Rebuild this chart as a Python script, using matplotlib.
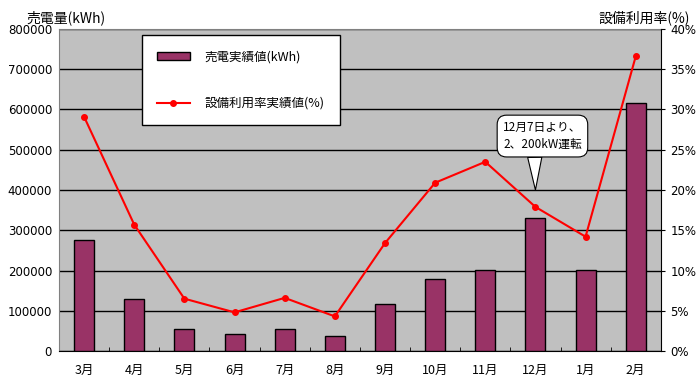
import matplotlib
matplotlib.use("Agg")
import matplotlib.pyplot as plt
import numpy as np

plt.rcParams['font.family'] = ['Noto Sans CJK JP', 'DejaVu Sans']

months = ['3月', '4月', '5月', '6月', '7月', '8月', '9月', '10月', '11月', '12月', '1月', '2月']
sales_kwh = [275000, 130000, 55000, 42000, 55000, 38000, 117000, 179000, 201000, 330000, 202000, 615000]
usage_rate = [29.1, 15.7, 6.5, 4.8, 6.6, 4.3, 13.4, 20.9, 23.5, 17.9, 14.2, 36.6]
left_ticks = [0, 100000, 200000, 300000, 400000, 500000, 600000, 700000, 800000]
right_ticks = [0, 5, 10, 15, 20, 25, 30, 35, 40]

BAR_COLOR = '#993366'
PLOT_BG = '#c0c0c0'

fig = plt.figure(figsize=(7, 3.85), dpi=100)
ax = fig.add_axes([0.0843, 0.0883, 0.8597, 0.8364])
ax.set_facecolor(PLOT_BG)
x = np.arange(len(months))

ax.bar(x, sales_kwh, width=0.4, color=BAR_COLOR, edgecolor='black', linewidth=1,
       zorder=3, label='売電実績値(kWh)')
ax.set_xlim(-0.5, len(months) - 0.5)
ax.set_ylim(0, 800000)
ax.set_yticks(left_ticks)
ax.set_yticklabels([str(v) for v in left_ticks], fontsize=8.5, family='DejaVu Sans')
ax.yaxis.grid(True, color='black', linewidth=1, zorder=1)
ax.set_axisbelow(True)
ax.set_xticks(x)
ax.set_xticklabels(months, fontsize=9)
ax.tick_params(axis='x', length=0, pad=9)
ax.set_xticks(np.arange(-0.5, len(months), 1), minor=True)
ax.tick_params(axis='x', which='minor', direction='in', length=3, color='black')
ax.tick_params(axis='y', length=0, pad=5)
for s in ['left', 'top']:
    ax.spines[s].set_color('#808080')
ax.spines['bottom'].set_color('black')
ax.spines['right'].set_visible(False)

ax2 = ax.twinx()
ax2.plot(x, usage_rate, color='red', linewidth=1.5, marker='o', markersize=4,
         zorder=5, label='設備利用率実績値(%)')
ax2.set_ylim(0, 40)
ax2.set_yticks(right_ticks)
ax2.set_yticklabels([str(v) + '%' for v in right_ticks], fontsize=8.5, family='DejaVu Sans')
ax2.tick_params(axis='y', length=3, pad=4)
ax2.spines['right'].set_color('black')
for s in ['left', 'top', 'bottom']:
    ax2.spines[s].set_visible(False)

fig.text(0.038, 0.955, '売電量(kWh)', fontsize=10, ha='left', va='center')
fig.text(0.985, 0.955, '設備利用率(%)', fontsize=10, ha='right', va='center')

h1, l1 = ax.get_legend_handles_labels()
h2, l2 = ax2.get_legend_handles_labels()
leg = fig.legend(h1 + h2, l1 + l2, loc='upper left', bbox_to_anchor=(0.203, 0.909),
                 fontsize=9, frameon=True, fancybox=False, edgecolor='black',
                 framealpha=1, borderpad=1.2, labelspacing=2.7, handlelength=2.6,
                 handleheight=0.6, handletextpad=1.2, borderaxespad=0)
leg.get_frame().set_linewidth(1)
leg.set_zorder(10)

ax2.annotate('12月7日より、\n2、200kW運転', xy=(9, 20), xytext=(9.14, 26.7),
             fontsize=8.5, ha='center', va='center', zorder=12, linespacing=1.4,
             bbox=dict(boxstyle='round,pad=0.5,rounding_size=0.8', fc='white', ec='black', lw=0.8),
             arrowprops=dict(arrowstyle='wedge,tail_width=1.2', fc='white', ec='black', lw=0.8,
                             relpos=(0.4, 0.1), shrinkA=0, shrinkB=0))

fig.savefig('out.png', dpi=100)
